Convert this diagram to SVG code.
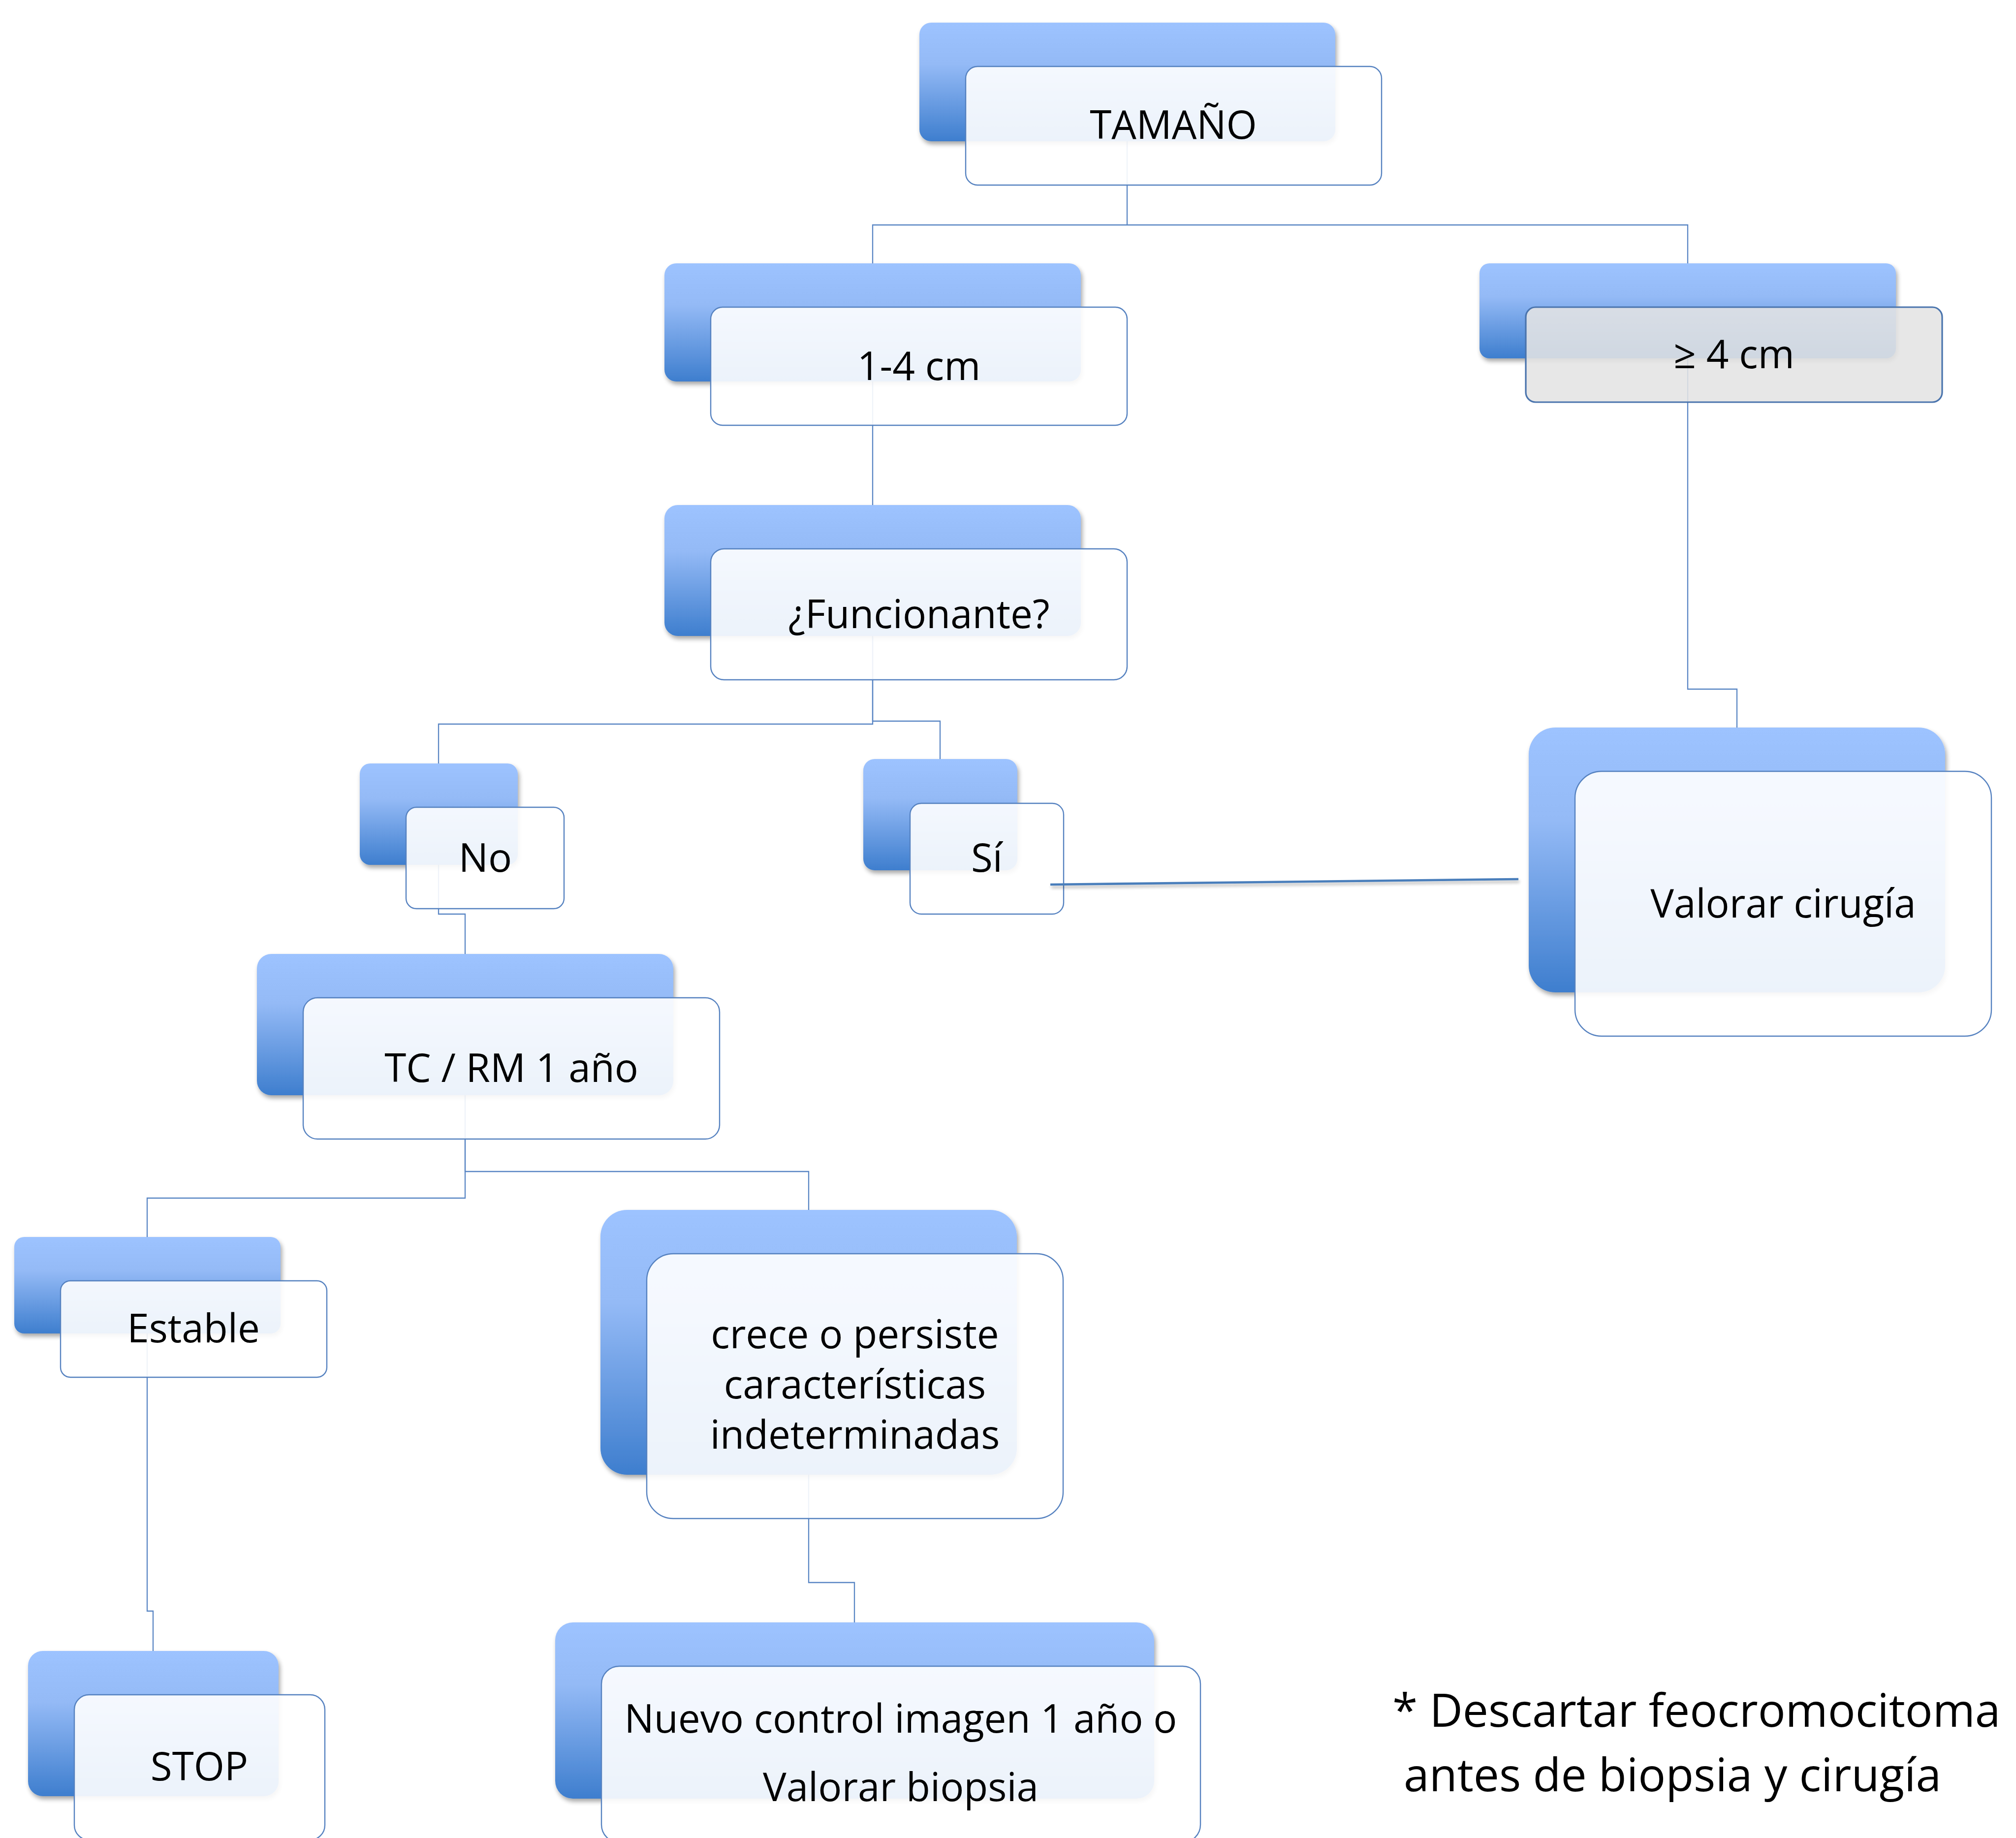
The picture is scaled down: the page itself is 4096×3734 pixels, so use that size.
<svg xmlns="http://www.w3.org/2000/svg" width="4096" height="3734" viewBox="0 0 4096 3734">
<defs>
<linearGradient id="gBack" x1="0" y1="0" x2="0" y2="1">
<stop offset="0" stop-color="#9DC3FF"/>
<stop offset="0.35" stop-color="#94BAF6"/>
<stop offset="1" stop-color="#3E7ECE"/>
</linearGradient>
<filter id="shadow" x="-10%" y="-10%" width="125%" height="130%">
<feGaussianBlur in="SourceAlpha" stdDeviation="5"/>
<feOffset dx="3" dy="6" result="b"/>
<feComponentTransfer><feFuncA type="linear" slope="0.35"/></feComponentTransfer>
<feMerge><feMergeNode/><feMergeNode in="SourceGraphic"/></feMerge>
</filter>
<filter id="lshadow" x="-5%" y="-200%" width="110%" height="500%">
<feGaussianBlur in="SourceAlpha" stdDeviation="3"/>
<feOffset dx="2" dy="5"/>
<feComponentTransfer><feFuncA type="linear" slope="0.3"/></feComponentTransfer>
<feMerge><feMergeNode/><feMergeNode in="SourceGraphic"/></feMerge>
</filter>
</defs>
<style>
.back{fill:url(#gBack);filter:url(#shadow)}
.front{fill:#ffffff;fill-opacity:0.9;stroke:#5682C0;stroke-width:2.4}
.gray{fill:#E4E4E4;fill-opacity:0.88;stroke:#4A74AD;stroke-width:3.2}
.conn{fill:none;stroke:#5A86C4;stroke-width:2.3}
.t{font-family:"Open Sans","Noto Sans",sans-serif;font-size:80px;fill:#000;text-anchor:middle}
.foot{font-family:"Open Sans","Noto Sans",sans-serif;font-size:93px;fill:#000}
</style>
<rect width="4096" height="3734" fill="#ffffff"/>

<g id="connectors">
<path class="conn" d="M2290,287 V457"/>
<path class="conn" d="M1773,535 V457 H3429 V535"/>
<path class="conn" d="M1773,775 V1026"/>
<path class="conn" d="M1773,1292 V1471 H891 V1551"/>
<path class="conn" d="M1773,1292 V1465 H1910 V1542"/>
<path class="conn" d="M3429,728 V1400 H3529 V1478"/>
<path class="conn" d="M891,1757 V1857 H945 V1938"/>
<path class="conn" d="M945,2225 V2434 H299 V2513"/>
<path class="conn" d="M945,2225 V2380 H1643 V2458"/>
<path class="conn" d="M299,2709 V3273 H311 V3354"/>
<path class="conn" d="M1643,2996 V3215 H1736 V3296"/>
</g>

<g id="node-tamano">
<rect class="back" x="1868" y="46" width="845" height="241" rx="24"/>
<rect class="front" x="1962" y="135" width="845" height="241" rx="24"/>
<text class="t" x="2384" y="282">TAMAÑO</text>
</g>

<g id="node-1-4cm">
<rect class="back" x="1350" y="535" width="846" height="240" rx="24"/>
<rect class="front" x="1444" y="624" width="846" height="240" rx="24"/>
<text class="t" x="1867" y="772">1-4 cm</text>
</g>

<g id="node-ge4cm">
<rect class="back" x="3006" y="535" width="846" height="193" rx="20"/>
<rect class="gray" x="3100" y="624" width="846" height="193" rx="20"/>
<text class="t" x="3523" y="748">≥ 4 cm</text>
</g>

<g id="node-funcionante">
<rect class="back" x="1350" y="1026" width="846" height="266" rx="27"/>
<rect class="front" x="1444" y="1115" width="846" height="266" rx="27"/>
<text class="t" x="1867" y="1276">¿Funcionante?</text>
</g>

<g id="node-no">
<rect class="back" x="731" y="1551" width="321" height="206" rx="21"/>
<rect class="front" x="825" y="1640" width="321" height="206" rx="21"/>
<text class="t" x="986" y="1771">No</text>
</g>

<g id="node-si">
<rect class="back" x="1754" y="1542" width="313" height="226" rx="23"/>
<rect class="front" x="1849" y="1632" width="312" height="225" rx="23"/>
<text class="t" x="2005" y="1771">Sí</text>
</g>

<g id="node-valorar-cirugia">
<rect class="back" x="3106" y="1478" width="846" height="538" rx="54"/>
<rect class="front" x="3200" y="1567" width="846" height="538" rx="54"/>
<text class="t" x="3623" y="1864">Valorar cirugía</text>
</g>

<g id="node-tc-rm">
<rect class="back" x="522" y="1938" width="846" height="287" rx="29"/>
<rect class="front" x="616" y="2027" width="846" height="287" rx="29"/>
<text class="t" x="1039" y="2198">TC / RM 1 año</text>
</g>

<g id="node-estable">
<rect class="back" x="29" y="2513" width="541" height="196" rx="20"/>
<rect class="front" x="123" y="2602" width="541" height="196" rx="20"/>
<text class="t" x="393" y="2727">Estable</text>
</g>

<g id="node-crece">
<rect class="back" x="1220" y="2458" width="846" height="538" rx="54"/>
<rect class="front" x="1314" y="2547" width="846" height="538" rx="54"/>
<text class="t" x="1737" y="2739">crece o persiste</text>
<text class="t" x="1737" y="2841">características</text>
<text class="t" x="1737" y="2943">indeterminadas</text>
</g>

<g id="node-stop">
<rect class="back" x="57" y="3354" width="509" height="295" rx="30"/>
<rect class="front" x="151" y="3443" width="509" height="295" rx="30"/>
<text class="t" x="405" y="3617">STOP</text>
</g>

<g id="node-nuevo-control">
<rect class="back" x="1128" y="3296" width="1217" height="358" rx="36"/>
<rect class="front" x="1222" y="3385" width="1217" height="358" rx="36"/>
<text class="t" x="1830" y="3520">Nuevo control imagen 1 año o</text>
<text class="t" x="1830" y="3659">Valorar biopsia</text>
</g>

<g id="connector-si-valorar">
<path d="M2134,1797 L3085,1786" fill="none" stroke="#4A7EBB" stroke-width="4.6" filter="url(#lshadow)"/>
</g>

<g id="note">
<text class="foot" x="2829" y="3508">* Descartar feocromocitoma</text>
<text class="foot" x="2852" y="3639">antes de biopsia y cirugía</text>
</g>
</svg>
